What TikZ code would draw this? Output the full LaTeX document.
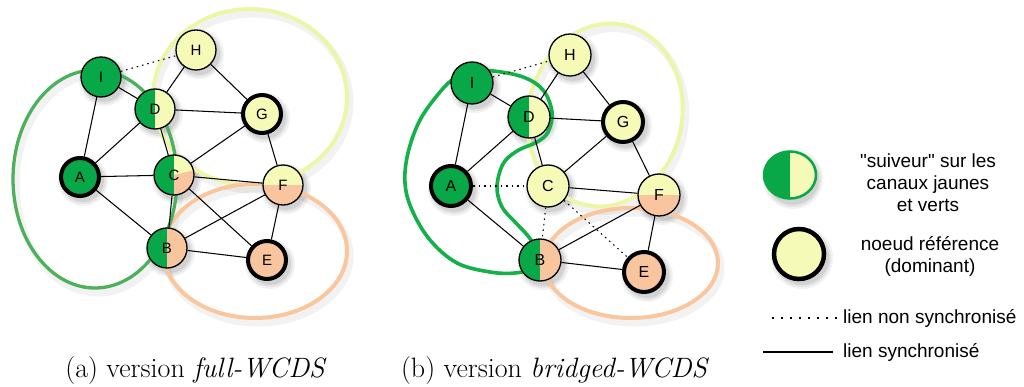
\documentclass[tikz,border=0pt]{standalone}
\usepackage{fontspec}
\usetikzlibrary{shapes.geometric}
\newfontfamily\lsans{Liberation Sans}[Ligatures=TeXOff]
\definecolor{ngreen}{RGB}{8,168,72}
\definecolor{nyel}{RGB}{245,250,182}
\definecolor{nora}{RGB}{249,197,158}
\definecolor{egreenA}{RGB}{76,176,92}
\definecolor{egreenB}{RGB}{20,176,72}
\definecolor{eyel}{RGB}{236,246,166}
\definecolor{eora}{RGB}{249,198,158}
\tikzset{
  nd/.style={circle, draw=black, line width=1.3pt, minimum size=40pt, inner sep=0pt, font=\lsans\fontsize{15}{18}\selectfont},
  ndr/.style={nd, minimum size=42pt, font=\lsans\fontsize{16}{19}\selectfont},
  refa/.style={line width=4pt, minimum size=38pt},
  refb/.style={line width=4pt, minimum size=40pt},
  gf/.style={fill=ngreen},
  yf/.style={fill=nyel},
  of/.style={fill=nora},
  halfgy/.style={fill=nyel, path picture={\fill[ngreen] (path picture bounding box.south west) rectangle (path picture bounding box.north);}},
  halfgo/.style={fill=nora, path picture={\fill[ngreen] (path picture bounding box.south west) rectangle (path picture bounding box.north);}},
  halfyo/.style={fill=nora, path picture={\fill[nyel] (path picture bounding box.west) rectangle (path picture bounding box.north east);}},
  cmix/.style={fill=nora, path picture={
     \fill[ngreen] (path picture bounding box.south west) rectangle (path picture bounding box.north);
     \fill[nyel] (path picture bounding box.center) -- (path picture bounding box.north) -- (path picture bounding box.north east) -- ([yshift=5pt]path picture bounding box.east) -- cycle;}},
  lnk/.style={draw=black, line width=1.05pt},
  dlnk/.style={lnk, dash pattern=on 1.5pt off 4pt},
  dleg/.style={lnk, dash pattern=on 1.5pt off 7.5pt},
  ell/.style={line width=4pt},
  eshad/.style={draw=black, line width=7pt, opacity=.05},
  legtxt/.style={font=\lsans\fontsize{19}{22}\selectfont, inner sep=0pt},
  captxt/.style={font=\fontsize{28}{32}\selectfont, inner sep=0pt}
}
\newcommand\nshad[3]{%
  \fill[black,opacity=.05] (#1+3,#2+4) circle (#3+4);
  \fill[black,opacity=.06] (#1+3,#2+4) circle (#3+2);
  \fill[black,opacity=.08] (#1+3,#2+4) circle (#3);}
\begin{document}
\begin{tikzpicture}[x=1pt,y=-1pt]
\useasboundingbox (0,0) rectangle (1024,387);
% ---------- shadows ----------
\begin{scope}[shift={(3,5)}]
  \draw[eshad] (95,179) ellipse [x radius=82, y radius=109];
  \draw[eshad] (250,97) ellipse [x radius=97, y radius=88];
  \draw[eshad] (255,251) ellipse [x radius=92, y radius=67];
  \draw[eshad, rotate around={-12:(605,115)}] (605,115) ellipse [x radius=77, y radius=92];
  \draw[eshad] (631,263) ellipse [x radius=87, y radius=55];
\end{scope}
\foreach \x/\y in {196/50,101/77,155/109,262/114,80/177,174/175,283/185,167/248,267/260}{\nshad{\x}{\y}{21}}
\foreach \x/\y in {570/55,472/83,529/117,623/122,451/186,548/186,659/195,540/260,644/272}{\nshad{\x}{\y}{22}}
\nshad{790}{175}{26}
\nshad{799}{254}{27}
% ---------- clusters (a) ----------
\draw[eyel, ell] (250,97) ellipse [x radius=97, y radius=88];
\draw[eora, ell] (255,251) ellipse [x radius=92, y radius=67];
\draw[egreenA, line width=3.3pt] (95,179) ellipse [x radius=82, y radius=109];
% ---------- clusters (b) ----------
\draw[eyel, ell, rotate around={-12:(605,115)}] (605,115) ellipse [x radius=77, y radius=92];
\draw[eora, ell] (631,263) ellipse [x radius=87, y radius=55];
\draw[egreenB, line width=3.6pt] plot[smooth cycle, tension=0.6] coordinates {
  (473,72) (493,71) (523,77) (543,90) (552,112) (548,132) (537,142) (517,151)
  (503,164) (497,187) (502,207) (515,222) (528,236) (536,250) (530,268) (515,273)
  (490,272) (457,263) (430,240) (412,210) (405,183) (408,153) (420,120) (440,92) (455,78)};
% ---------- nodes (a) ----------
\node[nd, yf] (aH) at (196,50) {H};
\node[nd, gf] (aI) at (101,77) {I};
\node[nd, halfgy] (aD) at (155,109) {D};
\node[nd, refa, yf] (aG) at (262,114) {G};
\node[nd, refa, gf] (aA) at (80,177) {A};
\node[nd, cmix] (aC) at (174,175) {C};
\node[nd, halfyo] (aF) at (283,185) {F};
\node[nd, halfgo] (aB) at (167,248) {B};
\node[nd, refa, of] (aE) at (267,260) {E};
% ---------- nodes (b) ----------
\node[ndr, yf] (bH) at (570,55) {H};
\node[ndr, gf] (bI) at (472,83) {I};
\node[ndr, halfgy] (bD) at (529,117) {D};
\node[ndr, refb, yf] (bG) at (623,122) {G};
\node[ndr, refb, gf] (bA) at (451,186) {A};
\node[ndr, yf] (bC) at (548,186) {C};
\node[ndr, halfyo] (bF) at (659,195) {F};
\node[ndr, halfgo] (bB) at (540,260) {B};
\node[ndr, refb, of] (bE) at (644,272) {E};
% ---------- links (a) ----------
\draw[dlnk] (aI) -- (aH);
\foreach \u/\v in {I/D,I/A,H/D,H/G,D/G,D/A,D/C,A/C,A/B,C/G,C/F,C/B,C/E,G/F,F/B,F/E,B/E}
  \draw[lnk] (a\u) -- (a\v);
% ---------- links (b) ----------
\draw[dlnk] (bI) -- (bH);
\foreach \u/\v in {A/C,C/B,C/E} \draw[dlnk] (b\u) -- (b\v);
\foreach \u/\v in {I/D,I/A,H/D,H/G,D/G,D/A,D/C,A/B,C/G,C/F,G/F,F/B,F/E,B/E}
  \draw[lnk] (b\u) -- (b\v);
% ---------- legend ----------
\node[ellipse, draw=ngreen, line width=2.5pt, minimum width=52pt, minimum height=47pt, inner sep=0pt, fill=nyel,
  path picture={\fill[ngreen] (path picture bounding box.south west) rectangle (path picture bounding box.north);}] (L1) at (790,175) {};
\node[circle, draw=black, line width=4.5pt, minimum size=50pt, inner sep=0pt, fill=nyel] (L2) at (799,254) {};
\node[legtxt, align=center] (T1) at (928,183) {"suiveur" sur les\\canaux jaunes\\et verts};
\node[legtxt, align=center] (T2) at (930,256) {noeud référence\\(dominant)};
\coordinate (d1) at (772,318); \coordinate (d2) at (838,318);
\coordinate (s1) at (763,352); \coordinate (s2) at (833,352);
\draw[dleg] (d1) -- (d2);
\draw[lnk] (s1) -- (s2);
\node[legtxt, anchor=west] (T3) at (843,318) {lien non synchronisé};
\node[legtxt, anchor=west] (T4) at (843,352) {lien synchronisé};
% ---------- captions ----------
\node[captxt] (capa) at (196,371) {(a) version \textit{full-WCDS}};
\node[captxt] (capb) at (555,371) {(b) version \textit{bridged-WCDS}};
\end{tikzpicture}
\end{document}
